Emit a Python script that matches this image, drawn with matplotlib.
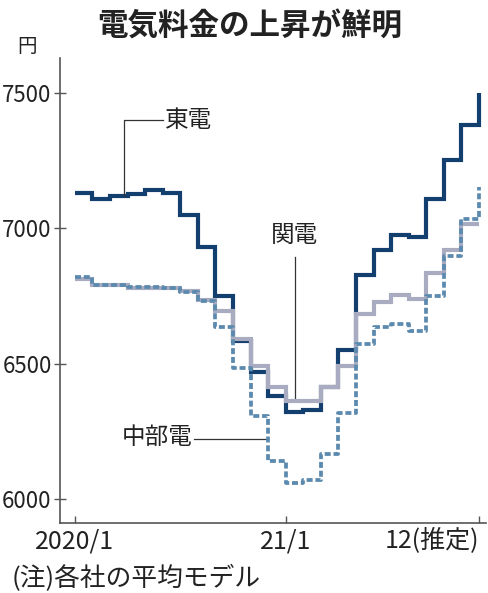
import matplotlib
matplotlib.use("Agg")
import matplotlib.pyplot as plt
import numpy as np

# ---- data ----
months = list(range(24))  # 2020/1 .. 2021/12
tokyo = [7131, 7109, 7119, 7126, 7143, 7131, 7048, 6931, 6752, 6585, 6468, 6381,
         6320, 6330, 6412, 6552, 6826, 6919, 6974, 6968, 7110, 7252, 7381, 7499]
kansai = [6814, 6789, 6789, 6780, 6780, 6778, 6768, 6735, 6694, 6592, 6493, 6412,
          6363, 6363, 6412, 6493, 6685, 6727, 6755, 6740, 6835, 6919, 7017, 7017]
chubu = [6822, 6792, 6792, 6785, 6785, 6781, 6765, 6733, 6635, 6484, 6307, 6141,
         6059, 6069, 6166, 6316, 6573, 6635, 6647, 6622, 6752, 6897, 7036, 7153]
series_names = ["東電", "関電", "中部電"]
x_ticks = [0, 12, 23]
x_tick_labels = ["2020/1", "21/1", "12(推定)"]
y_ticks = [6000, 6500, 7000, 7500]
y_tick_labels = ["6000", "6500", "7000", "7500"]
title = "電気料金の上昇が鮮明"
unit = "円"
note = "(注)各社の平均モデル"

CJK = ["Noto Sans CJK JP", "DejaVu Sans"]

W, H = 488, 593
fig = plt.figure(figsize=(W / 100, H / 100), dpi=100)
ax = fig.add_axes([60 / W, (H - 523) / H, (486 - 60) / W, (523 - 58) / H])

c_tokyo = "#123f6e"
c_kansai = "#a9abc0"
c_chubu = "#5b8aae"

ax.plot(months, tokyo, drawstyle="steps-post", color=c_tokyo, lw=3.0,
        solid_joinstyle="miter", solid_capstyle="butt", zorder=3)
ax.plot(months, kansai, drawstyle="steps-post", color=c_kansai, lw=3.0,
        solid_joinstyle="miter", solid_capstyle="butt", zorder=4)
ax.plot(months, chubu, drawstyle="steps-post", color=c_chubu, lw=2.7,
        linestyle=(0, (1.6, 0.75)), zorder=5)

ax.set_xlim(-0.85, 23.4)
ax.set_ylim(5911, 7630)

for s in ["top", "right"]:
    ax.spines[s].set_visible(False)
for s in ["left", "bottom"]:
    ax.spines[s].set_color("#555555")
    ax.spines[s].set_linewidth(1.2)

ax.set_yticks(y_ticks)
ax.set_yticklabels(y_tick_labels, fontfamily=CJK, fontsize=16, color="#222222")
ax.set_xticks(x_ticks)
ax.set_xticklabels(x_tick_labels, fontfamily=CJK, fontsize=18, color="#222222")
ax.tick_params(axis="y", direction="inout", length=8, width=1.0, color="#555555", pad=2)
ax.tick_params(axis="x", direction="in", length=5, width=1.0, color="#555555", pad=4)
lbls = ax.get_xticklabels()
lbls[-1].set_horizontalalignment("right")

# ---- annotations ----
lc = "#333333"
lw = 0.9
# 東電
xa = 2.78
ax.plot([xa, xa, 5.0], [tokyo[2], 7400, 7400], color=lc, lw=lw, zorder=6)
ax.text(5.15, 7398, series_names[0], fontfamily=CJK, fontsize=17, color="#222222",
        ha="left", va="center")
# 関電
xk = 12.5
ax.plot([xk, xk], [kansai[12], 6893], color=lc, lw=lw, zorder=2)
ax.text(xk, 6975, series_names[1], fontfamily=CJK, fontsize=17, color="#222222",
        ha="center", va="center")
# 中部電
ax.plot([6.75, 11], [6222, 6222], color=lc, lw=lw, zorder=2)
ax.text(6.7, 6226, series_names[2], fontfamily=CJK, fontsize=17, color="#222222",
        ha="right", va="center")

# ---- texts ----
fig.text(250 / W, 1 - 27 / H, title, fontfamily=CJK, fontweight="bold", fontsize=22,
         color="#222222", ha="center", va="center")
fig.text(27 / W, 1 - 46 / H, unit, fontfamily=CJK, fontsize=14, color="#222222",
         ha="center", va="center")
fig.text(12 / W, 1 - 579 / H, note, fontfamily=CJK, fontsize=18.5, color="#222222",
         ha="left", va="center")

fig.savefig("out.png", dpi=100, facecolor="white")
